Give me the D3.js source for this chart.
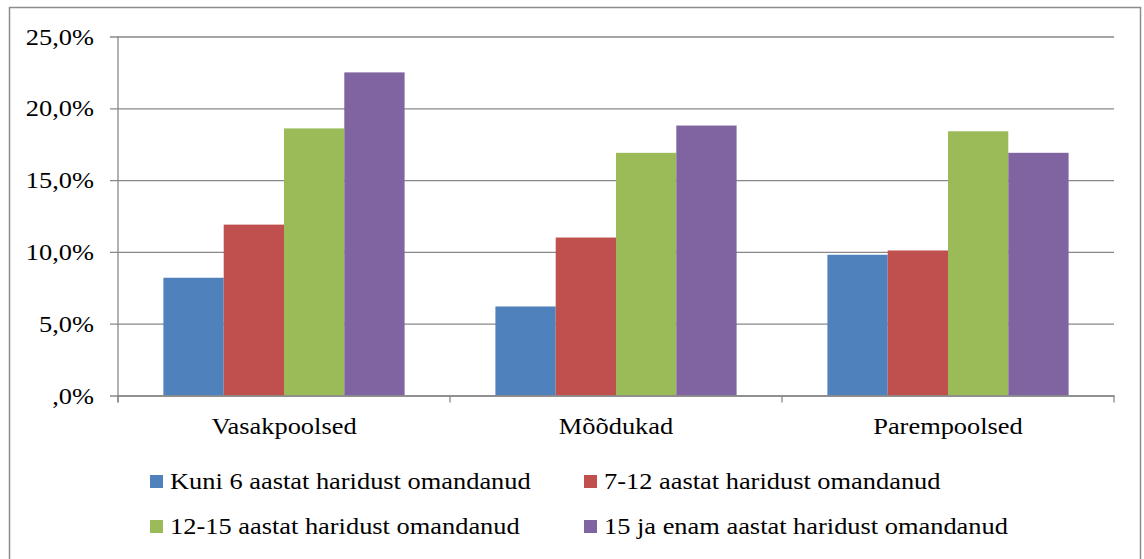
<!DOCTYPE html>
<html>
<head>
<meta charset="utf-8">
<script src="https://cdn.jsdelivr.net/npm/d3@7"></script>
<style>
  body { margin: 0; background: #fff; }
  svg text { font-family: "Times New Roman", "Liberation Serif", serif; fill: #000; }
</style>
</head>
<body>
<div id="chart"></div>
<script>
const categories = ['Vasakpoolsed', 'Mõõdukad', 'Parempoolsed'];
const seriesNames = [
  'Kuni 6 aastat haridust omandanud',
  '7-12 aastat haridust omandanud',
  '12-15 aastat haridust omandanud',
  '15 ja enam aastat haridust omandanud'
];
const seriesColors = ['#4F81BD', '#C0504D', '#9BBB59', '#8064A2'];
// values per series, in order of categories (share, 0..1)
const kuni6   = [0.082, 0.062, 0.098];
const v7to12  = [0.119, 0.110, 0.101];
const v12to15 = [0.186, 0.169, 0.184];
const v15plus = [0.225, 0.188, 0.169];
const yTicks  = [0, 0.05, 0.10, 0.15, 0.20, 0.25];

const seriesValues = [kuni6, v7to12, v12to15, v15plus];

const width  = 1144;
const height = 559;
const plot   = {left: 118, right: 1114, top: 36.5, bottom: 395.5};
const fontSize = 24;
const stretch  = 1.1;   // source picture's text is slightly wider than tall

const svg = d3.select('#chart')
  .append('svg')
  .attr('width', width)
  .attr('height', height);

// outer frame (bottom edge falls outside the picture)
svg.append('rect')
  .attr('x', 9.5)
  .attr('y', 7.5)
  .attr('width', 1131)
  .attr('height', 600)
  .attr('fill', '#fff')
  .attr('stroke', '#8c8c8c')
  .attr('stroke-width', 1.5);

const xScale = d3.scaleBand()
  .domain(categories)
  .range([plot.left, plot.right]);

const xInner = d3.scaleBand()
  .domain(d3.range(seriesNames.length))
  .range([0, xScale.bandwidth()])
  .paddingOuter(0.753);

const yScale = d3.scaleLinear()
  .domain([0, 0.25])
  .range([plot.bottom, plot.top]);

const fmt = v => v === 0 ? ',0%' : (v * 100).toFixed(1).replace('.', ',') + '%';

// gridlines + y ticks
svg.append('g')
  .attr('class', 'y-axis')
  .attr('transform', `translate(${plot.left}, 0)`)
  .call(d3.axisLeft(yScale).tickValues(yTicks).tickFormat(fmt)
    .tickSize(-(plot.right - plot.left)).tickSizeOuter(0).tickPadding(24))
  .call(g => g.attr('font-family', null).attr('font-size', null))
  .call(g => g.select('.domain').remove())
  .call(g => g.selectAll('.tick line')
    .attr('x1', -8)
    .attr('stroke', '#888')
    .attr('stroke-width', 1.3))
  .call(g => g.selectAll('.tick text')
    .style('font-size', fontSize + 'px')
    .attr('fill', '#000'));

// bars
const rows = [];
categories.forEach((c, ci) => {
  seriesValues.forEach((vals, si) => rows.push({cat: c, s: si, value: vals[ci]}));
});

svg.append('g')
  .selectAll('rect')
  .data(rows)
  .enter()
  .append('rect')
  .attr('x', d => xScale(d.cat) + xInner(d.s))
  .attr('y', d => yScale(d.value))
  .attr('width', xInner.bandwidth())
  .attr('height', d => yScale(0) - yScale(d.value))
  .attr('fill', d => seriesColors[d.s]);

// y axis line
svg.append('line')
  .attr('x1', plot.left).attr('x2', plot.left)
  .attr('y1', plot.top).attr('y2', plot.bottom + 7)
  .attr('stroke', '#888').attr('stroke-width', 1.3);

// x axis
const xAxis = svg.append('g')
  .attr('class', 'x-axis')
  .attr('transform', `translate(0, ${plot.bottom})`)
  .call(d3.axisBottom(xScale).tickSize(0).tickPadding(21))
  .call(g => g.attr('font-family', null).attr('font-size', null))
  .call(g => g.select('.domain')
    .attr('stroke', '#888').attr('stroke-width', 1.3))
  .call(g => g.selectAll('.tick text')
    .style('font-size', fontSize + 'px')
    .attr('fill', '#000'));

// tick marks at category boundaries
const bounds = categories.map(c => xScale(c)).concat([plot.right]);
xAxis.selectAll('.bound')
  .data(bounds)
  .enter()
  .append('line')
  .attr('x1', d => d).attr('x2', d => d)
  .attr('y1', 0).attr('y2', 7)
  .attr('stroke', '#888').attr('stroke-width', 1.3);

// legend
const legendPos = [
  {x: 150, y: 481}, {x: 584, y: 481},
  {x: 150, y: 526}, {x: 584, y: 526}
];
const legend = svg.append('g')
  .selectAll('g')
  .data(seriesNames)
  .enter()
  .append('g')
  .attr('transform', (d, i) => `translate(${legendPos[i].x}, ${legendPos[i].y})`);

legend.append('rect')
  .attr('x', 0).attr('y', -6)
  .attr('width', 13).attr('height', 13)
  .attr('fill', (d, i) => seriesColors[i]);

legend.append('text')
  .attr('x', 20)
  .attr('y', 0)
  .attr('dy', '0.32em')
  .style('font-size', fontSize + 'px')
  .text(d => d);

// widen every label a little, like the source picture
svg.selectAll('text').each(function() {
  const len = this.getComputedTextLength();
  d3.select(this)
    .attr('textLength', len * stretch)
    .attr('lengthAdjust', 'spacingAndGlyphs');
});
</script>
</body>
</html>
